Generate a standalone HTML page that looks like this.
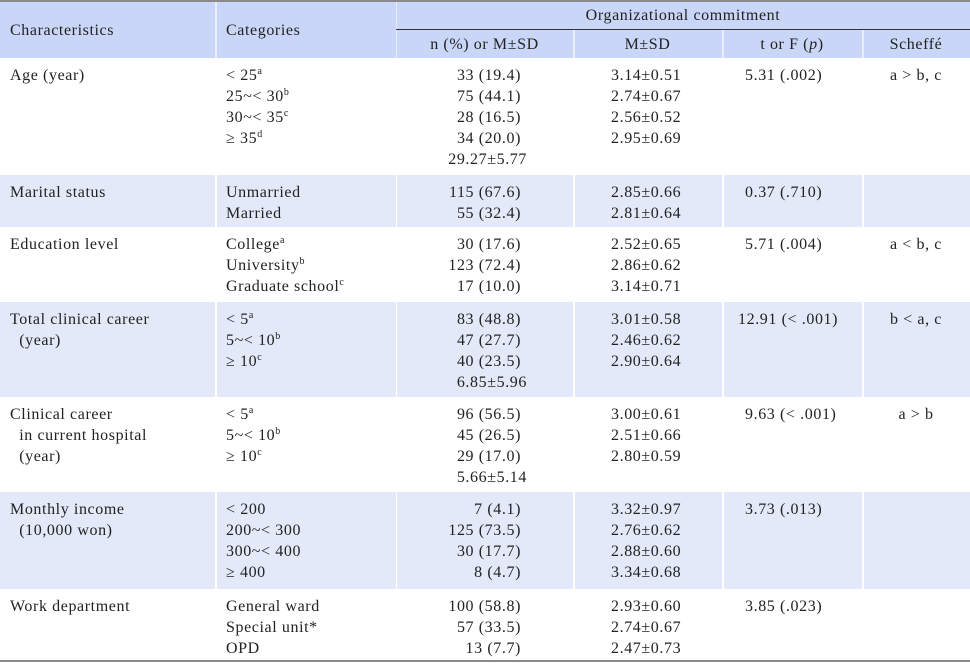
<!DOCTYPE html>
<html><head><meta charset="utf-8"><style>
body{margin:0;background:#fff;}
#t{position:relative;width:970px;height:663px;font-family:"Liberation Serif",serif;font-size:16px;letter-spacing:0.6px;color:#222;overflow:hidden}
.a{position:absolute;white-space:nowrap;line-height:21px}
.bg{position:absolute}
sup{font-size:10px;line-height:0;vertical-align:6px;letter-spacing:0}
.r{text-align:right}
.c{text-align:center}
</style></head><body>
<div id="t">
<div class="bg" style="left:0;top:0;width:970px;height:2px;background:#8a8a8a"></div>
<div class="bg" style="left:0;top:2px;width:970px;height:56px;background:#c9d6f7"></div>
<div class="bg" style="left:215px;top:2px;width:2px;height:56px;background:#e8eefc"></div>
<div class="bg" style="left:396px;top:2px;width:1px;height:56px;background:#e8eefc"></div>
<div class="bg" style="left:573px;top:30px;width:2px;height:28px;background:#e8eefc"></div>
<div class="bg" style="left:722px;top:30px;width:2px;height:28px;background:#e8eefc"></div>
<div class="bg" style="left:862px;top:30px;width:2px;height:28px;background:#e8eefc"></div>
<div class="bg" style="left:396px;top:29px;width:574px;height:1px;background:#333"></div>
<div class="a" style="left:10px;top:20px">Characteristics</div>
<div class="a" style="left:226px;top:20px">Categories</div>
<div class="a c" style="left:396px;width:574px;top:5px">Organizational commitment</div>
<div class="a c" style="left:396px;width:177px;top:34px">n (%) or M±SD</div>
<div class="a c" style="left:573px;width:149px;top:34px">M±SD</div>
<div class="a c" style="left:722px;width:140px;top:34px">t or F (<i>p</i>)</div>
<div class="a c" style="left:862px;width:108px;top:34px">Scheffé</div>
<div id="rows"></div>
<div class="bg" style="left:0;top:660px;width:970px;height:2px;background:#8a8a8a"></div>
</div>
<script>
const groups=[
{top:58,h:117,bg:0,ch:'Age (year)',cat:['&lt; 25<sup>a</sup>','25~&lt; 30<sup>b</sup>','30~&lt; 35<sup>c</sup>','≥ 35<sup>d</sup>'],n:['33 (19.4)','75 (44.1)','28 (16.5)','34 (20.0)','29.27±5.77'],m:['3.14±0.51','2.74±0.67','2.56±0.52','2.95±0.69'],t:'5.31 (.002)',s:'a &gt; b, c'},
{top:175,h:52,bg:1,ch:'Marital status',cat:['Unmarried','Married'],n:['115 (67.6)','55 (32.4)'],m:['2.85±0.66','2.81±0.64'],t:'0.37 (.710)',s:''},
{top:227,h:75,bg:0,ch:'Education level',cat:['College<sup>a</sup>','University<sup>b</sup>','Graduate school<sup>c</sup>'],n:['30 (17.6)','123 (72.4)','17 (10.0)'],m:['2.52±0.65','2.86±0.62','3.14±0.71'],t:'5.71 (.004)',s:'a &lt; b, c'},
{top:302,h:95,bg:1,ch:'Total clinical career<br>&nbsp;&nbsp;(year)',cat:['&lt; 5<sup>a</sup>','5~&lt; 10<sup>b</sup>','≥ 10<sup>c</sup>'],n:['83 (48.8)','47 (27.7)','40 (23.5)','6.85±5.96'],m:['3.01±0.58','2.46±0.62','2.90±0.64'],t:'12.91 (&lt; .001)',s:'b &lt; a, c',tx:738},
{top:397,h:95,bg:0,ch:'Clinical career<br>&nbsp;&nbsp;in current hospital<br>&nbsp;&nbsp;(year)',cat:['&lt; 5<sup>a</sup>','5~&lt; 10<sup>b</sup>','≥ 10<sup>c</sup>'],n:['96 (56.5)','45 (26.5)','29 (17.0)','5.66±5.14'],m:['3.00±0.61','2.51±0.66','2.80±0.59'],t:'9.63 (&lt; .001)',s:'a &gt; b'},
{top:492,h:97,bg:1,ch:'Monthly income<br>&nbsp;&nbsp;(10,000 won)',cat:['&lt; 200','200~&lt; 300','300~&lt; 400','≥ 400'],n:['7 (4.1)','125 (73.5)','30 (17.7)','8 (4.7)'],m:['3.32±0.97','2.76±0.62','2.88±0.60','3.34±0.68'],t:'3.73 (.013)',s:''},
{top:589,h:71,bg:0,ch:'Work department',cat:['General ward','Special unit*','OPD'],n:['100 (58.8)','57 (33.5)','13 (7.7)'],m:['2.93±0.60','2.74±0.67','2.47±0.73'],t:'3.85 (.023)',s:''}
];
const root=document.getElementById('rows');
function add(html,style,name){const d=document.createElement('div');d.className='a';d.style.cssText=style;d.innerHTML=html;


root.appendChild(d);return d;}
groups.forEach((g,i)=>{
 const ty=g.top+7;
 if(g.bg){[[0,215],[217,179],[397,176],[575,147],[724,138],[864,106]].forEach(([x,w])=>{const b=document.createElement('div');b.className='bg';b.style.cssText=`left:${x}px;top:${g.top}px;width:${w}px;height:${g.h}px;background:#e3e9f9`;
 
 
 root.appendChild(b);});}
 add(g.ch,`left:10px;top:${ty}px`,'characteristic-label');
 add(g.cat.join('<br>'),`left:226px;top:${ty}px`,'category-list');
 add(g.n.map(v=>v.includes('±')?v:v+'<span style="display:inline-block;width:6px"></span>').join('<br>'),`left:396px;width:131px;top:${ty}px;text-align:right`,'n-percent-values');
 add(g.m.join('<br>'),`left:611px;top:${ty}px`,'msd-values');
 add(g.t,`left:${g.tx||745}px;top:${ty}px`,'t-or-f-value');
 if(g.s)add(g.s,`left:862px;width:108px;top:${ty}px;text-align:center`,'scheffe-result');
});
</script>
</body></html>
